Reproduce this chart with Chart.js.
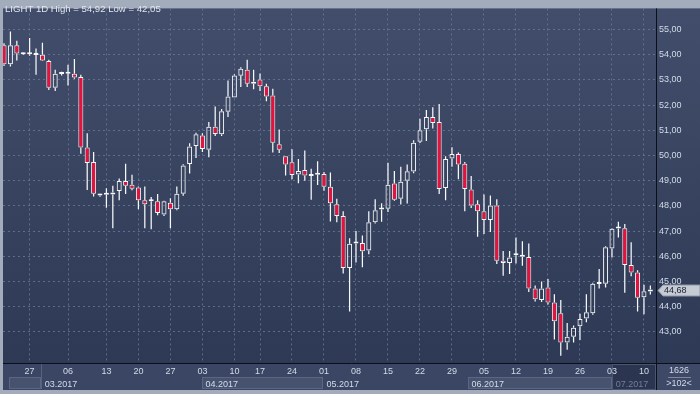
<!DOCTYPE html>
<html><head><meta charset="utf-8">
<style>html,body{margin:0;padding:0;background:#a3acbb;}canvas{display:block;}</style>
<script src="https://cdn.jsdelivr.net/npm/chart.js@4.4.0/dist/chart.umd.min.js"></script>
</head><body>
<canvas id="c" width="700" height="394"></canvas>
<script>
// ---- data ----
const opens  = [54.38,53.62,54.38,54.02,54.02,53.99,54.00,53.75,52.69,53.23,53.24,53.24,53.12,50.32,49.74,48.49,48.44,48.45,48.59,48.99,
                48.84,48.73,48.22,48.18,48.18,47.66,48.12,47.87,48.48,49.66,50.38,50.79,50.23,51.14,50.84,51.74,52.30,53.16,53.40,52.85,
                53.02,52.75,52.38,50.45,49.97,49.73,49.25,49.42,49.19,49.24,49.27,48.76,48.06,47.60,45.53,46.51,46.53,46.23,47.35,47.86,
                47.89,48.89,48.28,49.00,49.36,50.55,51.04,51.53,51.33,48.71,49.88,50.06,49.67,48.65,48.06,47.79,47.44,48.02,45.82,45.73,
                46.04,45.98,45.97,44.72,44.26,44.76,44.17,43.74,42.58,42.81,43.22,43.53,43.74,44.90,44.91,46.31,47.10,47.11,45.65,45.36,
                44.37,44.60];
const highs  = [54.45,54.92,54.55,54.09,54.66,54.25,54.47,53.80,53.40,53.32,53.60,53.83,53.20,50.88,50.14,48.50,48.70,48.80,49.09,49.67,
                49.24,48.77,48.77,48.35,48.47,48.20,48.30,48.77,49.65,50.49,50.90,50.88,51.33,51.94,51.85,52.98,53.22,53.50,53.80,53.40,
                53.25,52.85,52.65,51.03,49.97,50.25,49.86,50.20,49.47,49.77,49.34,49.32,48.28,47.79,46.72,47.00,46.82,47.79,48.26,48.10,
                49.71,49.38,49.55,49.64,50.60,51.46,51.81,51.91,52.04,49.97,50.33,50.12,49.74,49.19,48.22,48.45,48.41,48.26,46.21,46.21,
                46.75,46.60,46.51,44.84,45.00,45.10,44.49,44.26,43.35,43.25,43.72,44.49,44.95,45.49,46.40,47.11,47.37,47.28,46.56,45.45,
                44.87,44.84];
const lows   = [53.55,53.53,53.77,53.99,53.96,53.20,53.75,52.60,52.56,53.17,52.78,53.05,50.07,48.63,48.37,48.36,47.93,47.11,48.22,48.47,
                48.62,47.87,47.11,47.07,47.63,47.60,47.11,47.83,48.40,49.29,49.90,50.14,49.93,50.77,50.77,51.53,52.30,52.72,52.72,52.63,
                52.56,52.15,50.12,50.10,49.21,49.06,48.90,49.00,48.24,48.83,48.60,47.38,47.35,45.32,43.81,45.75,45.56,46.08,47.30,47.37,
                47.76,48.20,48.05,48.09,49.30,50.50,50.58,51.07,48.47,48.22,49.55,49.06,47.79,47.92,46.77,46.88,46.96,45.69,45.23,45.30,
                45.71,45.62,44.58,44.20,44.19,44.09,42.70,42.05,42.29,42.58,42.68,43.38,43.68,44.72,44.76,45.95,46.75,44.55,45.21,43.81,
                43.70,44.48];
const closes = [53.62,54.38,54.05,54.04,54.06,54.02,53.77,52.69,53.24,53.25,53.25,53.10,50.32,49.70,48.48,48.41,48.50,48.53,48.99,48.80,
                48.68,48.22,48.06,48.22,47.72,48.18,47.87,48.48,49.60,50.36,50.84,50.26,51.14,50.85,51.76,52.34,53.17,53.44,52.85,52.93,
                52.75,52.34,50.51,50.23,49.64,49.23,49.38,49.21,49.27,49.26,48.76,48.10,47.60,45.53,46.50,46.54,46.20,47.35,47.83,47.88,
                48.84,48.24,48.96,49.37,50.51,51.00,51.53,51.29,48.67,49.86,50.06,49.64,48.67,48.02,47.79,47.44,48.02,45.82,45.73,45.95,
                46.06,46.05,44.72,44.29,44.72,44.17,43.42,42.58,42.81,43.16,43.51,43.78,44.91,44.92,46.36,47.09,47.12,45.65,45.36,44.35,
                44.61,44.68];
const weekTickIndex  = [4,10,16,21,26,31,36,40,45,50,55,60,65,70,75,80,85,90,95,100];
const weekTickLabels = ['27','06','13','20','27','03','10','17','24','01','08','15','22','29','05','12','19','26','03','10'];
const monthStarts = [5.8,30.95,49.85,72.5,95.05];
const monthLabels = ['03.2017','04.2017','05.2017','06.2017','07.2017'];
const priceTicks  = [43,44,45,46,47,48,49,50,51,52,53,54,55];
const titleText = 'LIGHT 1D High = 54,92 Low = 42,05';
const barsTotalText = '1626';
const barsVisibleText = '>102<';

// ---- style ----
const FONT = '"Liberation Sans", Arial, sans-serif';
const RED = '#e4133d';
const WICK = '#f6f8fb';
const GRID = 'rgba(110,124,156,0.75)';
const TXT = '#d3dbe9';
const fmt = v => v.toFixed(2).replace('.', ',');

const idx = closes.map((_, i) => i);
const bodyData  = idx.map(i => ({x: i, y: [opens[i], closes[i]]}));
const upperData = idx.map(i => ({x: i, y: [Math.max(opens[i], closes[i]), highs[i]]}));
const lowerData = idx.map(i => ({x: i, y: [lows[i], Math.min(opens[i], closes[i])]}));

const decor = {
  id: 'decor',
  beforeDraw(chart) {
    const {ctx, chartArea: a, width: W} = chart;
    const xs = chart.scales.x;
    const axB = xs.bottom;
    ctx.save();
    ctx.fillStyle = '#a3acbb';
    ctx.fillRect(0, 0, W, chart.height);
    const g = ctx.createLinearGradient(0, a.top, 0, a.bottom);
    g.addColorStop(0, '#414d6b');
    g.addColorStop(0.5, '#38445f');
    g.addColorStop(1, '#2e3955');
    ctx.fillStyle = g;
    ctx.fillRect(a.left, a.top, W - a.left, a.bottom - a.top);
    ctx.fillStyle = '#3a4663';
    ctx.fillRect(a.left, a.bottom, W - a.left, axB - a.bottom);
    const rowTop = a.bottom + 14, rowBot = axB - 1;
    const px = v => xs.getPixelForValue(v);
    const bounds = [px(0.8)].concat(monthStarts.map(px));
    ctx.lineWidth = 1;
    for (let m = 0; m < bounds.length; m++) {
      const x0 = bounds[m];
      const x1 = m + 1 < bounds.length ? bounds[m + 1] : a.right;
      if (m === bounds.length - 1) {
        ctx.fillStyle = '#2b3550';
        ctx.fillRect(x0, a.bottom + 1, x1 - x0, rowBot - a.bottom);
        ctx.strokeStyle = '#4a5670';
        ctx.strokeRect(Math.round(x0) + 0.5, a.bottom + 1.5, Math.round(x1 - x0) - 1, rowBot - a.bottom - 1);
      } else if (m % 2 === 0) {
        ctx.fillStyle = '#47536e';
        ctx.fillRect(x0, rowTop, x1 - x0, rowBot - rowTop);
        ctx.strokeStyle = '#5a6683';
        ctx.strokeRect(Math.round(x0) + 0.5, rowTop + 0.5, Math.round(x1 - x0) - 1, rowBot - rowTop - 1);
      }
    }
    ctx.strokeStyle = '#56627e';
    monthStarts.slice(0, 1).forEach(v => {
      const x = Math.round(px(v)) + 0.5;
      ctx.beginPath(); ctx.moveTo(x, a.bottom + 1); ctx.lineTo(x, rowBot); ctx.stroke();
    });
    ctx.fillStyle = '#3d4966';
    ctx.fillRect(a.right, a.bottom, W - a.right, axB - a.bottom);
    ctx.restore();
  },
  afterDraw(chart) {
    const {ctx, chartArea: a, width: W} = chart;
    const xs = chart.scales.x, ys = chart.scales.y;
    const axB = xs.bottom;
    ctx.save();
    ctx.font = '9px ' + FONT;
    ctx.textBaseline = 'middle';
    ctx.textAlign = 'left';
    const rowMid = a.bottom + 21.5;
    monthStarts.forEach((v, m) => {
      ctx.fillStyle = m === monthStarts.length - 1 ? '#737e96' : TXT;
      ctx.fillText(monthLabels[m], xs.getPixelForValue(v) + 3.5, rowMid);
    });
    ctx.strokeStyle = '#0b0f19';
    ctx.lineWidth = 1;
    ctx.beginPath();
    ctx.moveTo(a.left, a.bottom + 0.5); ctx.lineTo(W, a.bottom + 0.5);
    ctx.moveTo(a.right + 0.5, a.top); ctx.lineTo(a.right + 0.5, axB);
    ctx.stroke();
    ctx.font = '9.6px ' + FONT;
    ctx.fillStyle = '#e2e6ee';
    ctx.textBaseline = 'alphabetic';
    ctx.fillText(titleText, 5, 12);
    const last = closes[closes.length - 1];
    const y = Math.round(ys.getPixelForValue(last));
    ctx.beginPath();
    ctx.moveTo(a.right + 2, y + 0.5);
    ctx.lineTo(a.right + 7, y - 5);
    ctx.lineTo(W, y - 5);
    ctx.lineTo(W, y + 6);
    ctx.lineTo(a.right + 7, y + 6);
    ctx.closePath();
    ctx.fillStyle = '#c5cad3';
    ctx.fill();
    ctx.strokeStyle = '#8d96a8';
    ctx.stroke();
    ctx.fillStyle = '#1b2233';
    ctx.font = '9px ' + FONT;
    ctx.textBaseline = 'middle';
    ctx.fillText(fmt(last), a.right + 8, y + 0.5);
    const cx = (a.right + W) / 2 + 1;
    ctx.textAlign = 'center';
    ctx.fillStyle = TXT;
    ctx.fillText(barsTotalText, cx, a.bottom + 7.5);
    ctx.fillText(barsVisibleText, cx, a.bottom + 21);
    ctx.strokeStyle = '#7d88a0';
    ctx.beginPath();
    ctx.moveTo(cx - 11, a.bottom + 14.5); ctx.lineTo(cx + 12, a.bottom + 14.5);
    ctx.stroke();
    ctx.restore();
  }
};

new Chart(document.getElementById('c'), {
  type: 'bar',
  data: {
    datasets: [
      { label: 'body', data: bodyData, barThickness: 5, grouped: false,
        backgroundColor: c => closes[c.dataIndex] < opens[c.dataIndex] ? RED : 'rgba(0,0,0,0)',
        borderColor: WICK, borderWidth: 1, borderSkipped: false, minBarLength: 2, inflateAmount: 0 },
      { label: 'upper', data: upperData, barThickness: 1.25, grouped: false,
        backgroundColor: WICK, borderWidth: 0, inflateAmount: 0 },
      { label: 'lower', data: lowerData, barThickness: 1.25, grouped: false,
        backgroundColor: WICK, borderWidth: 0, inflateAmount: 0 }
    ]
  },
  options: {
    responsive: false,
    animation: false,
    devicePixelRatio: 1,
    layout: { padding: { left: 3, top: 2, right: 0, bottom: 4 } },
    plugins: { legend: { display: false }, tooltip: { enabled: false }, title: { display: false } },
    scales: {
      x: {
        type: 'linear', min: -0.16, max: 101.88, offset: false,
        afterBuildTicks: ax => { ax.ticks = weekTickIndex.map(v => ({ value: v })); },
        afterFit: ax => { ax.height = 27; },
        ticks: { autoSkip: false, maxRotation: 0, padding: 3, color: TXT,
                 font: { size: 9, family: FONT },
                 callback: (v, i) => weekTickLabels[i] },
        grid: { color: GRID, drawTicks: false, offset: false },
        border: { display: false, dash: [2, 3] }
      },
      y: {
        position: 'right', min: 41.764, max: 55.838,
        afterBuildTicks: ax => { ax.ticks = priceTicks.map(v => ({ value: v })); },
        afterFit: ax => { ax.width = 44; },
        ticks: { padding: 3, color: TXT, font: { size: 9, family: FONT },
                 callback: v => fmt(v) },
        grid: { color: GRID, drawTicks: false },
        border: { display: false, dash: [2, 3] }
      }
    }
  },
  plugins: [decor]
});
</script>
</body></html>
